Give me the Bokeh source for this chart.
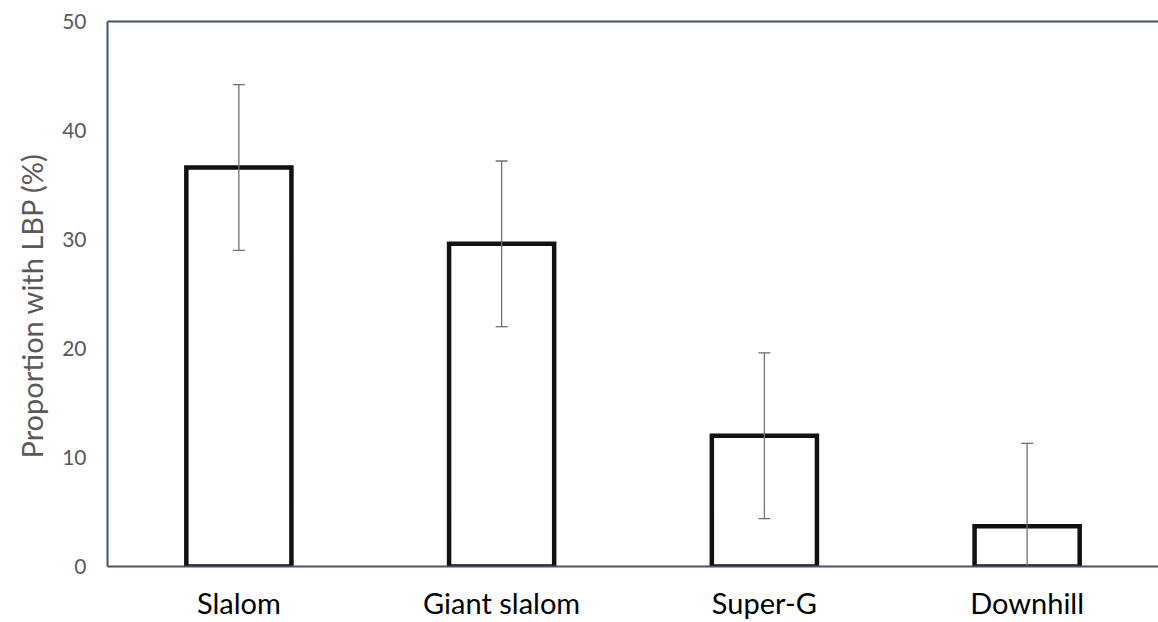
from bokeh.plotting import figure
from bokeh.models import LinearAxis, FixedTicker, ColumnDataSource, Title
from bokeh.embed import file_html
from bokeh.resources import INLINE

categories = ["Slalom", "Giant slalom", "Super-G", "Downhill"]
proportion = [36.6, 29.6, 12.0, 3.7]
err_upper = [44.2, 37.2, 19.6, 11.3]
err_lower = [29.0, 22.0, 4.4, 0.0]
y_ticks = [0, 10, 20, 30, 40, 50]

AXIS_COLOR = "#44546a"
FONT = "Lato"

xpos = [i + 0.5 for i in range(len(categories))]

p = figure(x_range=(0, len(categories)), y_range=(0, 50), width=1158, height=622,
           output_backend="svg", toolbar_location=None, x_axis_location=None,
           min_border_left=107, min_border_right=0, min_border_top=21, min_border_bottom=56)
p.outline_line_color = None
p.grid.visible = False
p.background_fill_color = "white"

src = ColumnDataSource(dict(x=xpos, val=proportion, up=err_upper, lo=err_lower))
p.vbar(x="x", top="val", width=0.4, bottom=0, source=src,
       fill_color="white", line_color="#111111", line_width=4.5, line_join="miter")

p.segment(x0="x", y0="lo", x1="x", y1="up", source=src, line_color="#707070", line_width=1.3)
p.scatter(x="x", y="up", source=src, marker="dash", size=12, line_color="#707070", line_width=1.3)
low_x = [x for x, l in zip(xpos, err_lower) if l > 0]
low_vals = [l for l in err_lower if l > 0]
p.scatter(x=low_x, y=low_vals, marker="dash", size=12, line_color="#707070", line_width=1.3)

# y axis
p.yaxis.ticker = FixedTicker(ticks=y_ticks)
p.yaxis.major_label_text_font = FONT
p.yaxis.major_label_text_font_size = "21px"
p.yaxis.major_label_text_color = "#595959"
p.yaxis.major_label_standoff = 21
p.yaxis.major_tick_line_color = None
p.yaxis.minor_tick_line_color = None
p.yaxis.major_tick_out = 0
p.yaxis.major_tick_in = 0
p.yaxis.axis_line_color = AXIS_COLOR
p.yaxis.axis_line_width = 2

ytitle = Title(text="Proportion with LBP (%)", align="left", offset=108, standoff=22,
               text_font=FONT, text_font_style="normal", text_font_size="29px",
               text_color="#595959")
p.add_layout(ytitle, "left")

# x axis (category labels)
xaxis = LinearAxis(ticker=FixedTicker(ticks=xpos),
                   major_label_overrides={x: c for x, c in zip(xpos, categories)},
                   major_label_text_font=FONT, major_label_text_font_size="29px",
                   major_label_text_color="#000000", major_label_standoff=18,
                   major_tick_line_color=None, minor_tick_line_color=None,
                   major_tick_out=0, major_tick_in=0,
                   axis_line_color=AXIS_COLOR, axis_line_width=2)
p.add_layout(xaxis, "below")

top_axis = LinearAxis(ticker=FixedTicker(ticks=[]),
                      axis_line_color=AXIS_COLOR, axis_line_width=2,
                      major_tick_line_color=None, minor_tick_line_color=None,
                      major_tick_out=0, major_tick_in=0)
p.add_layout(top_axis, "above")

open("out.html", "w").write(file_html(p, INLINE))
